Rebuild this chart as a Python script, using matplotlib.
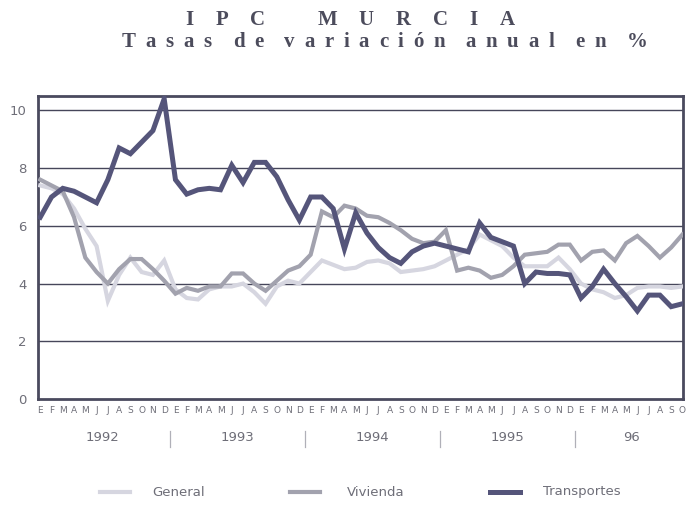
import matplotlib
matplotlib.use("Agg")
import matplotlib.pyplot as plt
from matplotlib.lines import Line2D

months = ["E", "F", "M", "A", "M", "J", "J", "A", "S", "O", "N", "D"]
years = ["1992", "1993", "1994", "1995", "96"]
n_points = 58  # Ene 1992 .. Oct 1996

general = [7.4, 7.3, 7.1, 6.6, 5.9, 5.3, 3.4, 4.3, 4.9, 4.4, 4.3, 4.8,
           3.8, 3.5, 3.45, 3.8, 3.9, 3.9, 4.0, 3.7, 3.3, 3.9, 4.1, 4.0,
           4.4, 4.8, 4.65, 4.5, 4.55, 4.75, 4.8, 4.7, 4.4, 4.45, 4.5, 4.6,
           4.8, 5.0, 5.2, 5.7, 5.5, 5.3, 4.9, 4.6, 4.6, 4.6, 4.9, 4.5,
           4.0, 3.8, 3.7, 3.5, 3.6, 3.85, 3.9, 3.9, 3.85, 3.9]
vivienda = [7.6, 7.4, 7.2, 6.3, 4.9, 4.4, 4.0, 4.5, 4.85, 4.85, 4.5, 4.1,
            3.65, 3.85, 3.75, 3.9, 3.9, 4.35, 4.35, 4.0, 3.75, 4.1, 4.45, 4.6,
            5.0, 6.5, 6.3, 6.7, 6.6, 6.35, 6.3, 6.1, 5.85, 5.55, 5.4, 5.45,
            5.85, 4.45, 4.55, 4.45, 4.2, 4.3, 4.6, 5.0, 5.05, 5.1, 5.35, 5.35,
            4.8, 5.1, 5.15, 4.8, 5.4, 5.65, 5.3, 4.9, 5.25, 5.7]
transportes = [6.3, 7.0, 7.3, 7.2, 7.0, 6.8, 7.6, 8.7, 8.5, 8.9, 9.3, 10.4,
               7.6, 7.1, 7.25, 7.3, 7.25, 8.1, 7.5, 8.2, 8.2, 7.7, 6.9, 6.2,
               7.0, 7.0, 6.6, 5.2, 6.45, 5.75, 5.25, 4.9, 4.7, 5.1, 5.3, 5.4,
               5.3, 5.2, 5.1, 6.1, 5.6, 5.45, 5.3, 4.0, 4.4, 4.35, 4.35, 4.3,
               3.5, 3.9, 4.5, 4.0, 3.55, 3.05, 3.6, 3.6, 3.2, 3.3]

c_gen = "#d6d6e0"
c_viv = "#a2a2ae"
c_tra = "#55557a"
c_frame = "#4a4a5e"
c_text = "#6e6e78"

W, H = 686, 507
fig = plt.figure(figsize=(W/100, H/100), dpi=100)
ax = fig.add_axes([38/W, 1-399/H, (683-38)/W, (399-96)/H])

x = list(range(n_points))
ax.plot(x, general, color=c_gen, lw=3.0, solid_joinstyle="miter", zorder=3)
ax.plot(x, vivienda, color=c_viv, lw=3.0, solid_joinstyle="miter", zorder=4)
ax.plot(x, transportes, color=c_tra, lw=3.6, solid_joinstyle="miter", zorder=5)

ax.set_xlim(-0.2, 57.05)
ax.set_ylim(0, 10.5)
for yv in [2, 4, 6, 8, 10]:
    ax.axhline(yv, color="#46465a", lw=1.0, zorder=1)
ax.set_yticks([0, 2, 4, 6, 8, 10])
ax.set_yticklabels(["0", "2", "4", "6", "8", "10"], color=c_text, fontsize=9.5)
ax.tick_params(axis="y", length=0, pad=8)
ax.set_xticks([])
for s in ax.spines.values():
    s.set_color(c_frame)
    s.set_linewidth(2.0)

# month letters
for i in range(n_points):
    ax.text(i, -0.4, months[i % 12], ha="center", va="center",
            fontsize=6.5, color=c_text, clip_on=False)

# year labels and separators
centers = [5.5, 17.5, 29.5, 41.5, 52.5]
for c, yl in zip(centers, years):
    ax.text(c, -1.35, yl, ha="center", va="center", fontsize=9.5,
            color=c_text, clip_on=False)
for sep in [11.5, 23.5, 35.5, 47.5]:
    ax.plot([sep, sep], [-1.1, -1.65], color="#b0b0b8", lw=0.9, clip_on=False)

# legend
leg_items = [(c_gen, 3.0, "General", 100, 152),
             (c_viv, 3.0, "Vivienda", 290, 347),
             (c_tra, 3.6, "Transportes", 490, 543)]
for col, lw, lab, x0, xt in leg_items:
    fig.add_artist(Line2D([x0/W, (x0+30)/W], [1-492/H, 1-492/H],
                          color=col, lw=lw))
    fig.text(xt/W, 1-492/H, lab, ha="left", va="center",
             fontsize=9.5, color=c_text)

# title with wide letter spacing
renderer = fig.canvas.get_renderer()
title_kw = dict(fontsize=15, fontweight="bold", family="Liberation Serif",
                color="#4c4c5c", va="center", ha="left")


def spaced_title(text, x_left, x_right, y_px, word_gap=1.5):
    chars = list(text)
    widths = []
    for ch in chars:
        if ch == " ":
            widths.append(0.0)
            continue
        t = fig.text(0, 0, ch, **title_kw)
        widths.append(t.get_window_extent(renderer).width)
        t.remove()
    n_gaps = len(chars) - 1
    n_space = chars.count(" ")
    units = (n_gaps - 2 * n_space) + n_space * word_gap * 2
    track = (x_right - x_left - sum(widths)) / units
    xpos = x_left
    for i, ch in enumerate(chars):
        if ch == " ":
            xpos += track * word_gap * 2 - track
            continue
        fig.text(xpos / W, 1 - y_px / H, ch, **title_kw)
        xpos += widths[i] + track


spaced_title("IPC MURCIA", 185, 515, 20, word_gap=1.2)
spaced_title("Tasas de variación anual en %", 122, 648, 42, word_gap=1.1)

fig.savefig("out.png", dpi=100)
